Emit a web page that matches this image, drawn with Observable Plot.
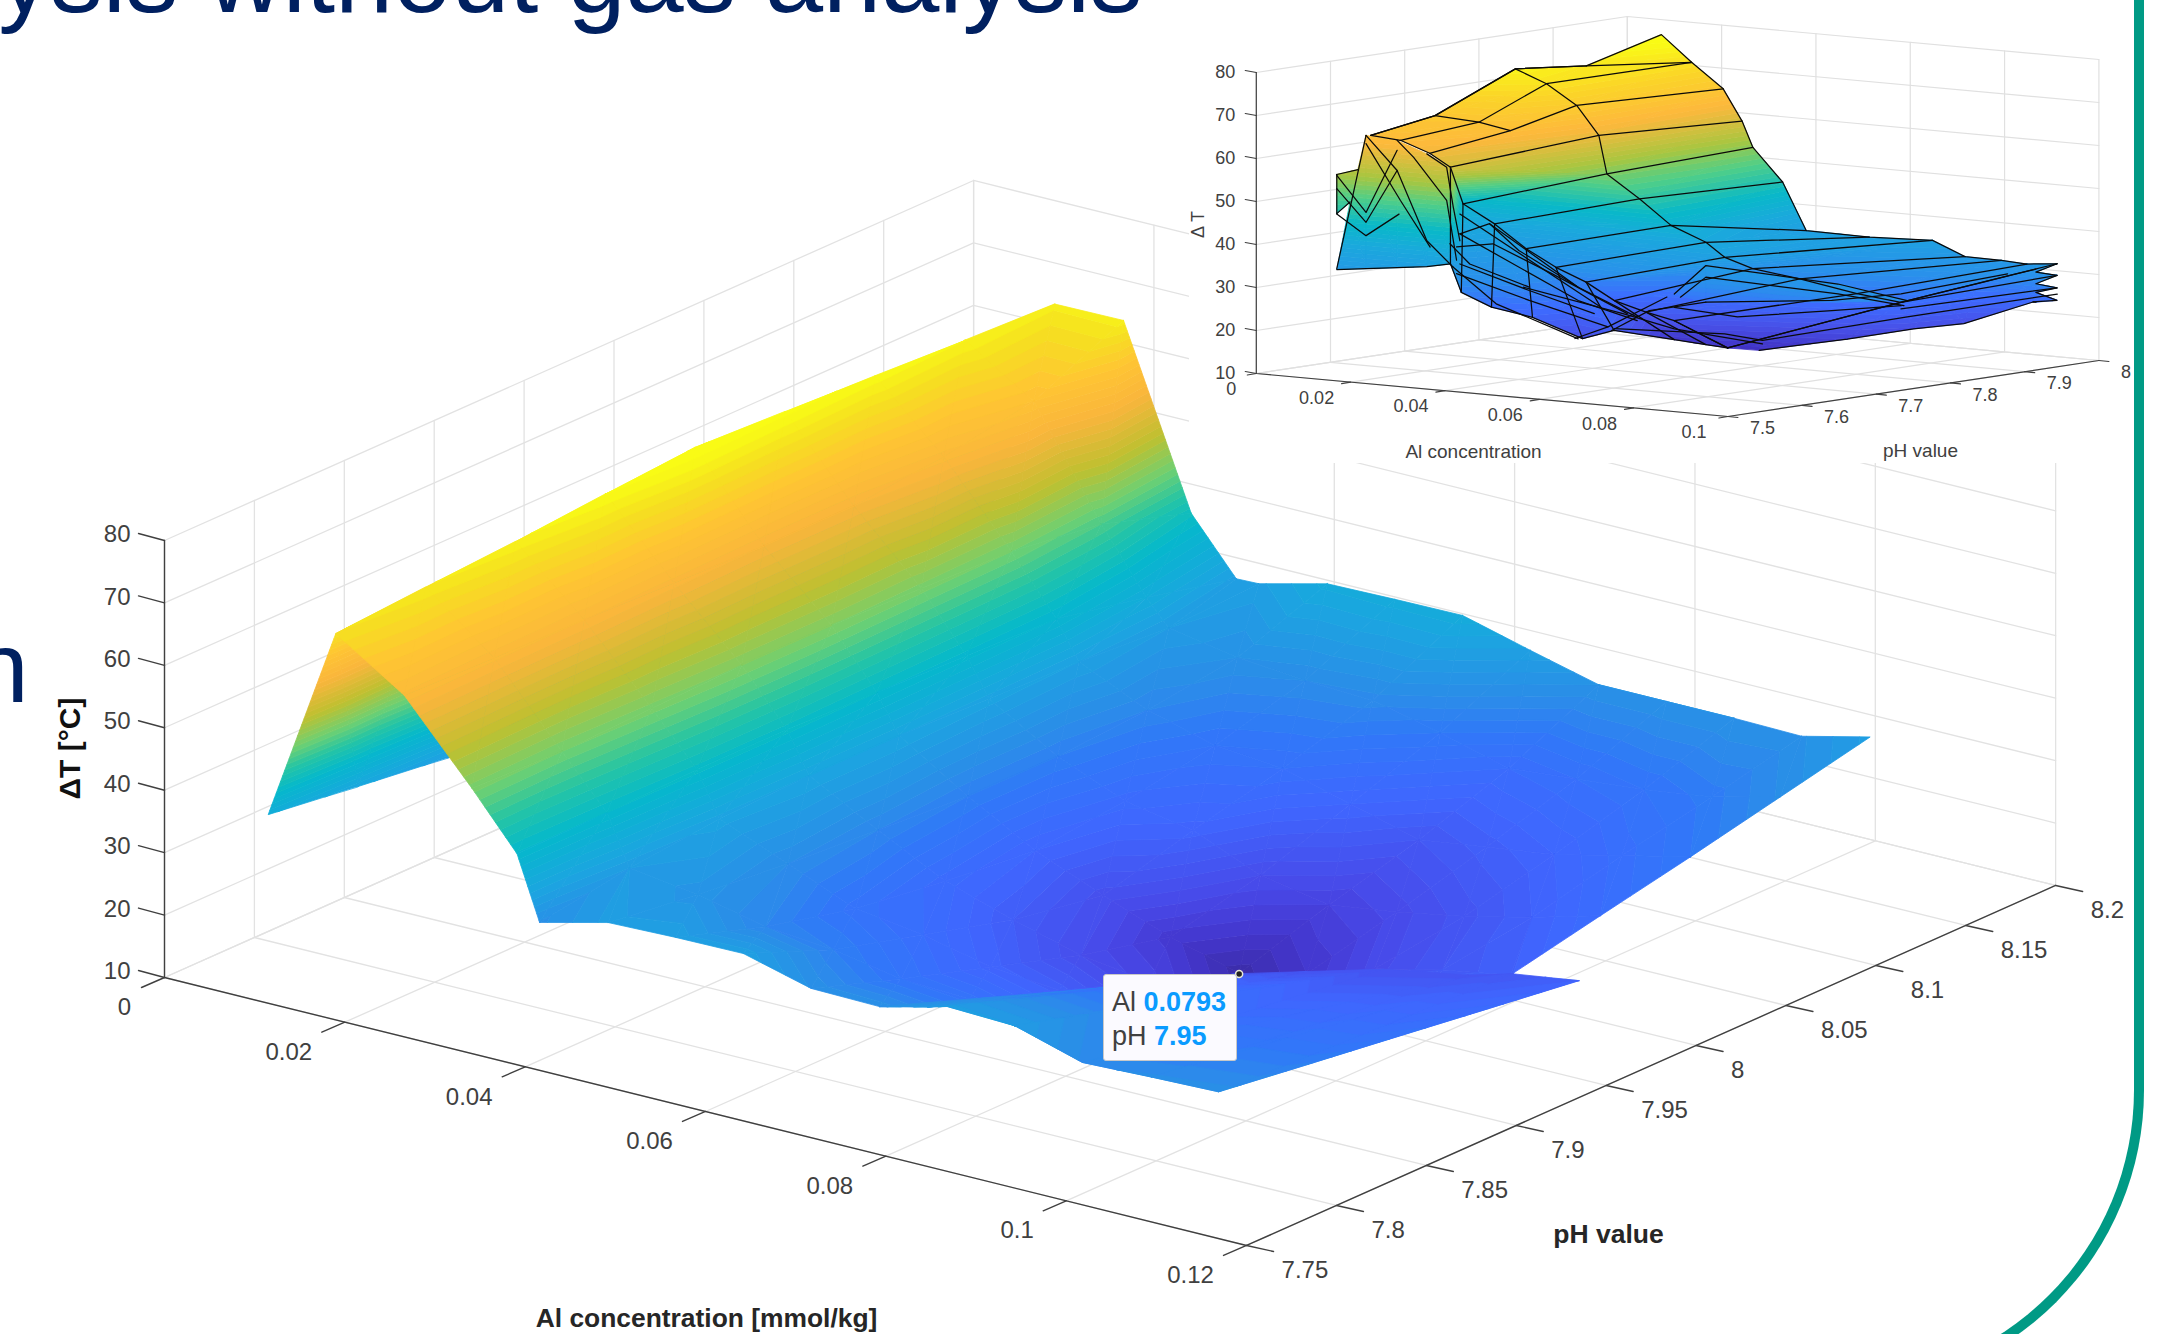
<!DOCTYPE html>
<html>
<head>
<meta charset="utf-8">
<script src="https://cdn.jsdelivr.net/npm/d3@7"></script>
<script src="https://cdn.jsdelivr.net/npm/@observablehq/plot@0.6"></script>
<style>
html,body{margin:0;padding:0;background:#fff;width:2157px;height:1334px;overflow:hidden;font-family:"Liberation Sans",Arial,sans-serif}
#frame{position:absolute;left:1100px;top:-200px;width:1044px;height:1590px;box-sizing:border-box;border-right:10px solid #009a85;border-bottom:10px solid #009a85;border-bottom-right-radius:300px}
#main{position:absolute;left:0;top:0}
#inset{position:absolute;left:1189px;top:0;background:#fff}
#tip{position:absolute;left:1103px;top:974px;width:134px;height:87px;box-sizing:border-box;background:#fbfaff;border:1px solid #c8c8c8;border-radius:3px;font-size:27px;line-height:34px;color:#404040;padding:10px 0 0 8px;white-space:nowrap}
#tip b{color:#0a9bff;font-weight:bold}
</style>
</head>
<body>
<div id="frame"></div>
<div id="main"></div>
<div id="tip">Al <b>0.0793</b><br>pH <b>7.95</b></div>
<div id="inset"></div>
<script>
// ---------- main chart data ----------
const alValues=[.0115,.0190,.0266,.0341,.0391,.0416,.0492,.0567,.0642,.0717,.0793,.0868,.0943,.1018,.1094,.1169];
const phValues=[7.75,7.80,7.85,7.90,7.95,8.00,8.05,8.10,8.15];
const dT775=[40.2,71.9,64.7,52.5,43.8,33.7,36.4,36.7,36.8,33.9,33.7,36.4,36,32.8,33.2,33.5];
const dT780=[38.3,72.9,64.3,52,44,36,34.5,32,31,29,28.5,31.3,31.7,30.1,30.9,31.5];
const dT785=[36.5,73.8,64,52.5,44.5,37.5,33,28.5,27,24.5,23.5,26.2,27.5,27.4,28.6,29.6];
const dT790=[36,75,63.5,53,44.5,38,32,26.5,23,20,18.5,21.1,23.5,24.7,26.2,27.6];
const dT795=[36,76.1,63,53,44,38,31,25,20.5,16.5,13.4,16,19.5,22,23.9,25.7];
const dT800=[36,75.4,63,52.5,43.5,37.5,31,26.5,24.5,20,18,19.5,21.5,24,27,null];
const dT805=[36,74.7,64.5,52,43,37,32,29,28,25,22,23.5,25,27.5,30,null];
const dT810=[36,74,67,50,40,36,34,33,32.5,30,27,28,29,30.5,33.2,null];
const dT815=[36,73.4,73.5,45.3,36.6,36.7,39.4,39.6,39.7,36.8,34,34,34,33.8,36.4,null];
const dTRows=[dT775,dT780,dT785,dT790,dT795,dT800,dT805,dT810,dT815];
// folded front flap of the main surface
const flapFront=[[.0793,7.75,33.7],[.0816,7.75,34.5],[.0846,7.75,35.5],[.0868,7.75,36.4],[.0943,7.75,36],[.1018,7.75,32.8],[.1094,7.75,33.2],[.1169,7.75,33.5]];
const flapBack=[[.0793,7.75,33.7],[.0885,7.828,30],[.0869,7.9115,21],[.0914,7.9267,21],[.0965,7.9438,21],[.104,7.9536,21.5],[.1075,7.961,22],[.1153,7.9586,24]];
const cursor=[[.0793,7.95,13.3]];
const mainAlTicks=[0,.02,.04,.06,.08,.1,.12];
const mainPhTicks=[7.75,7.8,7.85,7.9,7.95,8,8.05,8.1,8.15,8.2];
const mainTTicks=[10,20,30,40,50,60,70,80];
const mainColorDomain=[13,16,19,25,30,33,38,44,48,52,57,63,68,72,75];
const mainColorRange=["#3a2ba6","#4336cc","#4848e8","#3f66ff","#3078f8","#2b8de8","#1ba5e0","#05b8cc","#25c5a5","#70d070","#bfc030","#f9b53c","#ffc533","#f5e020","#f9fb15"];

// ---------- inset data: [Al, pH, dT] ----------
const insetRowL=[[.0164,7.55,65.7],[.0227,7.55,65.2],[.0289,7.55,62.8],[.0333,7.55,60],[.0045,7.75,43.4],[.0112,7.75,39.4],[.0179,7.75,34.3],[.0242,7.75,30.6],[.0306,7.75,27.8],[.0366,7.75,24.1],[.0433,7.75,22.1],[.0493,7.75,20.7],[.0606,7.75,15.5]];
const insetRowLM=[[.0143,7.65,67.5],[.0236,7.65,66.9],[.0303,7.65,65.6]];
const insetRowM=[[.0156,7.75,75.9],[.0222,7.75,73.1],[.0286,7.75,68.7],[.0333,7.75,62.2],[.035,7.75,53.4],[.0419,7.75,48.3],[.0486,7.75,42.8],[.056,7.75,39.6],[.06,7.75,36.5],[.0502,7.85,30.3],[.0602,7.85,28.9],[.0723,7.85,26.7],[.0816,7.85,25.6]];
const insetRowR=[[.0149,7.85,73.9],[.0215,7.95,72.8],[.0282,7.95,67.3],[.0322,7.95,60.2],[.0345,7.95,54.3],[.0408,7.95,46.9],[.0458,7.95,36.1],[.0592,7.95,35.9],[.0726,7.95,36.5],[.0795,7.95,33.4],[.0872,7.95,33.3],[.0926,7.95,33],[.099,7.95,33.7]];
const insetPeakTop=[[.0149,7.85,73.9],[.0151,7.95,78.6]];
const insetPeakBottom=[[.0215,7.95,72.8],[.0215,7.95,72.8]];
const insetWingTop=[[.012,7.55,49.8],[.0154,7.55,65.6],[.022,7.55,65.1],[.0283,7.55,62.6],[.0333,7.55,60]];
const insetWingBottom=[[.0092,7.55,33.8],[.0154,7.55,34.6],[.022,7.55,35.5],[.0283,7.55,36.4],[.0333,7.55,37.5]];
const insetTipTop=[[.0092,7.55,55.9],[.0137,7.55,57.5]];
const insetTipBottom=[[.0092,7.55,46.8],[.012,7.55,49.8]];
const insetLowBottom=[[.0215,7.625,34.4],[.0238,7.625,28],[.0302,7.625,25.2],[.0389,7.625,23.7],[.0495,7.625,19.8],[.0562,7.625,22.4],[.0493,7.75,16.3],[.056,7.75,15.8],[.0606,7.75,15.5],[.0606,7.75,15.5]];
const insetRightTop=[[.0606,7.75,15.5],[.0816,7.85,25.6],[.0818,7.9,26.5],[.0819,7.95,27.3],[.0899,7.95,30.3],[.0945,7.95,32]];
const insetRightBottom=[[.0673,7.75,15.6],[.0781,7.8,18],[.0843,7.85,19.7],[.0871,7.9,19.9],[.0939,7.95,24.3],[.0945,7.95,24.3]];
const insetEndTips=[
 [[.0945,7.95,32],[.0945,7.95,31.3],[.099,7.95,33.7]],
 [[.0945,7.95,31.3],[.0945,7.95,28.6],[.099,7.95,31]],
 [[.0945,7.95,28.6],[.0945,7.95,26.6],[.099,7.95,28.1]],
 [[.0945,7.95,26.6],[.0945,7.95,24.3],[.099,7.95,25.2]]
];
const insetEndZigzag=[[.099,7.95,33.7],[.0945,7.95,31.3],[.099,7.95,31],[.0945,7.95,28.6],[.099,7.95,28.1],[.0945,7.95,26.6],[.099,7.95,25.2],[.0939,7.95,24.3]];
const insetTentTop=[[.0493,7.75,26.9],[.056,7.75,34.2],[.084,7.75,32.7],[.0987,7.75,30.3]];
const insetTentBottom=[[.0493,7.75,26.9],[.056,7.75,25.7],[.084,7.75,28.5],[.0987,7.75,30.3]];
const insetFolds=[
 [[.0154,7.55,65.6],[.022,7.55,58.1],[.0283,7.55,42.4],[.0339,7.55,36.8]],
 [[.0154,7.55,63.7],[.0227,7.55,51.2],[.029,7.55,41]],
 [[.022,7.55,65.1],[.0255,7.55,61.5],[.0325,7.55,52.2],[.0346,7.55,38.5]],
 [[.0283,7.55,62.6],[.0325,7.55,59.9],[.0339,7.55,50.8],[.0353,7.55,43.1]],
 [[.0092,7.55,55.7],[.0154,7.55,47.7],[.022,7.55,62.8]],
 [[.0092,7.55,52.6],[.0154,7.55,45.4],[.022,7.55,58.1]],
 [[.0092,7.55,46.7],[.0154,7.55,42.3],[.0224,7.55,48]],
 [[.0154,7.55,65.6],[.0092,7.55,34]],
 [[.0339,7.55,36.8],[.043,7.55,29.2],[.0604,7.55,22.8]],
 [[.0346,7.55,35.4],[.05,7.55,30.7],[.0667,7.55,26.2]],
 [[.0353,7.55,44.7],[.0604,7.55,31.7],[.0729,7.55,28.3]],
 [[.0353,7.55,49.3],[.0653,7.55,30.6]],
 [[.0416,7.55,47.7],[.0604,7.55,34.8],[.0729,7.55,29.1]],
 [[.0597,7.55,22.8],[.0667,7.55,26.2],[.0792,7.55,34.4]],
 [[.0353,7.55,44.7],[.0416,7.55,47.7],[.0478,7.55,42.1],[.0604,7.55,34.8]],
 [[.0346,7.55,41.6],[.0423,7.55,43.1],[.0548,7.55,37.4],[.0708,7.55,29.7]],
 [[.0353,7.55,37.7],[.05,7.55,33],[.0638,7.55,29]],
 [[.0332,7.55,42.2],[.0374,7.55,37.9],[.05,7.55,33.8]],
 [[.0506,7.75,26.3],[.056,7.75,31.5],[.084,7.75,30.4],[.098,7.75,29.1]],
 [[.0659,7.95,21.4],[.099,7.95,31]],
 [[.0659,7.95,19.9],[.099,7.95,28.1]],
 [[.0245,7.95,17.3],[.0512,7.95,20.4],[.0659,7.95,23.4],[.0885,7.95,30.3]],
 [[.0173,7.75,25.3],[.0386,7.75,21.2],[.0493,7.75,18.8],[.068,7.75,17.2]],
 [[.036,7.75,17.1],[.044,7.75,22.5],[.056,7.75,25.7]],
 [[.0366,7.75,17.6],[.06,7.75,18.7],[.068,7.75,18],[.0987,7.75,26.5],[.1305,7.75,35]],
 [[.0493,7.75,23.8],[.0627,7.75,22.9],[.0827,7.75,26.4],[.0974,7.75,29]]
];
const insetAlTicks=[0,.02,.04,.06,.08,.1];
const insetPhTicks=[7.5,7.6,7.7,7.8,7.9,8];
const insetTTicks=[10,20,30,40,50,60,70,80];
const insetColorDomain=[15,20,25,30,40,45,51,56,64,71,77];
const insetColorRange=["#3f2fc0","#4850e8","#3d6cff","#2a90ec","#1aa9dc","#08b8c8","#50cf88","#a8c640","#fdb83c","#fbd528","#f9fb15"];

// ---------- 3D view (orthographic) ----------
const viewMain=(al,ph,t)=>[164+al*9017+(ph-7.75)*1798, 977+al*2233-(ph-7.75)*800-(t-10)*6.243];
const viewInset=(al,ph,t)=>[1255.8+al*4716+(ph-7.5)*742, 373+al*430-(ph-7.5)*112-(t-10)*4.3];

// split a triangle into constant-colour bands, like interpolated shading
function clipBand(poly,level,sign){
  const out=[];
  for(let i=0;i<poly.length;i++){
    const a=poly[i],b=poly[(i+1)%poly.length];
    const da=(a[2]-level)*sign,db=(b[2]-level)*sign;
    if(da>=0) out.push(a);
    if((da>=0)!==(db>=0)){const u=da/(da-db);out.push([a[0]+(b[0]-a[0])*u,a[1]+(b[1]-a[1])*u,level]);}
  }
  return out;
}
function triangleBands(tri,out){
  const ts=tri.map(p=>p[2]),hi=Math.max(...ts);
  for(let l=Math.floor(Math.min(...ts));l<=hi;l++){
    const p=clipBand(clipBand(tri,l,1),l+1,-1);
    if(p.length>=3){
      const ring=p.map(q=>[q[0],q[1]]);ring.push(ring[0]);
      out.push({geometry:{type:"Polygon",coordinates:[ring]},level:l+.5});
    }
  }
}
function addQuad(a,b,c,d,view,out){
  const [A,B,C,D]=[a,b,c,d].map(p=>{const s=view(p[0],p[1],p[2]);return [s[0],s[1],p[2]];});
  triangleBands([A,B,C],out);triangleBands([A,C,D],out);
}
function addRibbon(top,bottom,view,out){
  for(let i=0;i+1<top.length;i++) addQuad(top[i],top[i+1],bottom[i+1],bottom[i],view,out);
}
function lineRows(lines,view){
  const rows=[];
  lines.forEach((pts,id)=>pts.forEach(p=>{const s=view(p[0],p[1],p[2]);rows.push({x:s[0],y:s[1],id});}));
  return rows;
}

// wall and floor grid, axes and ticks
function boxParts(view,alT,phT,tT){
  const a0=alT[0],a1=alT[alT.length-1],p0=phT[0],p1=phT[phT.length-1],t0=tT[0],t1=tT[tT.length-1];
  const grid=[];
  for(const a of alT){grid.push([[a,p0,t0],[a,p1,t0],[a,p1,t1]]);}
  for(const p of phT){grid.push([[a0,p,t1],[a0,p,t0],[a1,p,t0]]);}
  for(const t of tT){grid.push([[a0,p0,t],[a0,p1,t],[a1,p1,t]]);}
  const axes=[[[a0,p0,t1],[a0,p0,t0],[a1,p0,t0],[a1,p1,t0]]];
  return {grid:lineRows(grid,view),axes:lineRows(axes,view),a0,a1,p0,p1,t0,t1};
}
function offsetRows(pts,view,dx,dy,text){
  return pts.map((p,i)=>{const s=view(p[0],p[1],p[2]);return {x:s[0]+dx,y:s[1]+dy,text:text(i)};});
}
function tickRows(pts,view,dx,dy){
  const rows=[];
  pts.forEach((p,i)=>{const s=view(p[0],p[1],p[2]);rows.push({x:s[0],y:s[1],id:i},{x:s[0]+dx,y:s[1]+dy,id:i});});
  return rows;
}
const gridLine=(rows,color,w)=>Plot.line(rows,{x:"x",y:"y",z:"id",stroke:color,strokeWidth:w});
const label=(rows,o)=>Plot.text(rows,{x:"x",y:"y",text:"text",fill:"#404040",fontFamily:"Liberation Sans",...o});
const fmt=v=>String(+v.toFixed(2));

// ---------- main surface polygons, far to near ----------
const mainPolys=[];
for(let c=0;c+1<alValues.length;c++){
  for(let r=phValues.length-2;r>=0;r--){
    const q=[[c,r+1],[c+1,r+1],[c+1,r],[c,r]].map(([i,j])=>[alValues[i],phValues[j],dTRows[j][i]]);
    if(q.every(p=>p[2]!=null)) addQuad(q[0],q[1],q[2],q[3],viewMain,mainPolys);
  }
}
addRibbon(flapBack,flapFront,viewMain,mainPolys);

// ---------- main plot ----------
const mb=boxParts(viewMain,mainAlTicks,mainPhTicks,mainTTicks);
const mAl=mainAlTicks.map(a=>[a,mb.p0,mb.t0]), mPh=mainPhTicks.map(p=>[mb.a1,p,mb.t0]), mT=mainTTicks.map(t=>[mb.a0,mb.p0,t]);
const alLabelRows=offsetRows(mAl,viewMain,-56,30,i=>fmt(mainAlTicks[i]));
alLabelRows[0].x+=16;
alLabelRows[5].x+=7;
const mainPlot=Plot.plot({
  width:2157,height:1334,margin:0,
  x:{domain:[0,2157],range:[0,2157],axis:null},
  y:{domain:[0,1334],range:[0,1334],axis:null},
  color:{type:"linear",domain:mainColorDomain,range:mainColorRange,clamp:true},
  style:{background:"transparent",overflow:"hidden"},
  marks:[
    Plot.text([{x:1142,y:11,text:"ysis without gas analysis"}],{x:"x",y:"y",text:"text",textAnchor:"end",lineAnchor:"bottom",fontSize:104.5,fill:"#002060",fontFamily:"Liberation Sans"}),
    Plot.text([{x:28,y:701,text:"n"}],{x:"x",y:"y",text:"text",textAnchor:"end",lineAnchor:"bottom",fontSize:100,fill:"#002060",fontFamily:"Liberation Sans"}),
    gridLine(mb.grid,"#e2e2e2",1.3),
    gridLine(mb.axes,"#404040",1.4),
    gridLine(tickRows(mAl,viewMain,-23,10),"#404040",1.4),
    gridLine(tickRows(mPh,viewMain,27,6),"#404040",1.4),
    gridLine(tickRows(mT,viewMain,-26,-7),"#404040",1.4),
    label(alLabelRows,{fontSize:24}),
    label(offsetRows(mPh,viewMain,35,25,i=>fmt(mainPhTicks[i])),{fontSize:24,textAnchor:"start"}),
    label(offsetRows(mT,viewMain,-34,-6,i=>String(mainTTicks[i])),{fontSize:24,textAnchor:"end"}),
    label([{x:706,y:1318,text:"Al concentration [mmol/kg]"}],{fontSize:26.4,fontWeight:"bold",fill:"#262626"}),
    label([{x:1608,y:1234,text:"pH value"}],{fontSize:26.5,fontWeight:"bold",fill:"#262626"}),
    label([{x:70,y:748,text:"ΔT [°C]"}],{fontSize:30,fontWeight:"bold",rotate:-90,fill:"#111"}),
    Plot.geo(mainPolys,{geometry:"geometry",fill:"level",stroke:"level",strokeWidth:0.8}),
    Plot.dot(cursor.map(p=>{const s=viewMain(p[0],p[1],p[2]);return {x:s[0],y:s[1]};}),{x:"x",y:"y",r:3.5,fill:"#222",stroke:"#e8e8d8",strokeWidth:1.5})
  ]
});
document.getElementById("main").appendChild(mainPlot);

// ---------- inset polygons ----------
const insetPolys=[];
addRibbon(insetTipTop,insetTipBottom,viewInset,insetPolys);
addRibbon(insetWingTop,insetWingBottom,viewInset,insetPolys);
addRibbon(insetRowL.slice(0,3),insetRowLM,viewInset,insetPolys);
addRibbon(insetRowLM,insetRowM.slice(0,3),viewInset,insetPolys);
addRibbon(insetRowL.slice(2),insetRowM.slice(2),viewInset,insetPolys);
addRibbon(insetRowR,insetRowM,viewInset,insetPolys);
addRibbon(insetPeakTop,insetPeakBottom,viewInset,insetPolys);
addRibbon(insetRowL.slice(3),insetLowBottom,viewInset,insetPolys);
addRibbon(insetRightTop,insetRightBottom,viewInset,insetPolys);
insetEndTips.forEach(t=>addRibbon([t[0],t[2]],[t[1],t[2]],viewInset,insetPolys));
addRibbon(insetTentTop,insetTentBottom,viewInset,insetPolys);

const insetColumnLines=insetRowM.map((m,i)=>i<3?[insetRowL[i],insetRowLM[i],m,insetRowR[i]]:[insetRowL[i],m,insetRowR[i]]);
const insetLowColumns=insetLowBottom.map((b,i)=>[insetRowL[i+3],b]);
const insetEdges=[
  insetRowL,insetRowM,insetRowR,insetRowLM,
  [insetRowL[0],insetRowLM[0],insetRowM[0],insetRowR[0],insetPeakTop[1],insetRowR[1]],
  insetLowBottom,insetRightBottom,insetRightTop,insetTentTop,insetWingBottom,insetTipTop,
  [insetTipTop[0],insetTipBottom[0]],[insetTipBottom[0],insetTipBottom[1]],
  insetEndZigzag,
  ...insetColumnLines,...insetLowColumns,...insetFolds
];

// ---------- inset plot ----------
const ib=boxParts(viewInset,insetAlTicks,insetPhTicks,insetTTicks);
const iAl=insetAlTicks.map(a=>[a,ib.p0,ib.t0]), iPh=insetPhTicks.map(p=>[ib.a1,p,ib.t0]), iT=insetTTicks.map(t=>[ib.a0,ib.p0,t]);
const iAlLabels=offsetRows(iAl,viewInset,-34,16,i=>fmt(insetAlTicks[i]));
iAlLabels[0].x+=9;
const iPhLabels=offsetRows(iPh,viewInset,22,12,i=>fmt(insetPhTicks[i]));
const insetPlot=Plot.plot({
  width:945,height:463,margin:0,
  x:{domain:[1189,2134],range:[0,945],axis:null},
  y:{domain:[0,463],range:[0,463],axis:null},
  color:{type:"linear",domain:insetColorDomain,range:insetColorRange,clamp:true},
  style:{background:"#fff"},
  marks:[
    gridLine(ib.grid,"#e0e0e0",1.2),
    gridLine(ib.axes,"#404040",1.2),
    gridLine(tickRows(iAl,viewInset,-9,1.5),"#404040",1.2),
    gridLine(tickRows(iPh,viewInset,10,1),"#404040",1.2),
    gridLine(tickRows(iT,viewInset,-11,-2),"#404040",1.2),
    label(iAlLabels,{fontSize:18}),
    label(iPhLabels,{fontSize:18,textAnchor:"start"}),
    label(offsetRows(iT,viewInset,-21,0,i=>String(insetTTicks[i])),{fontSize:18,textAnchor:"end"}),
    label([{x:1473,y:451,text:"Al concentration"}],{fontSize:19}),
    label([{x:1920,y:450,text:"pH value"}],{fontSize:19}),
    label([{x:1198,y:224,text:"Δ T"}],{fontSize:18,rotate:-90}),
    Plot.geo(insetPolys,{geometry:"geometry",fill:"level",stroke:"level",strokeWidth:0.8}),
    Plot.line(lineRows(insetEdges,viewInset),{x:"x",y:"y",z:"id",stroke:"#0a0a0a",strokeWidth:1.25})
  ]
});
document.getElementById("inset").appendChild(insetPlot);
</script>
</body>
</html>
